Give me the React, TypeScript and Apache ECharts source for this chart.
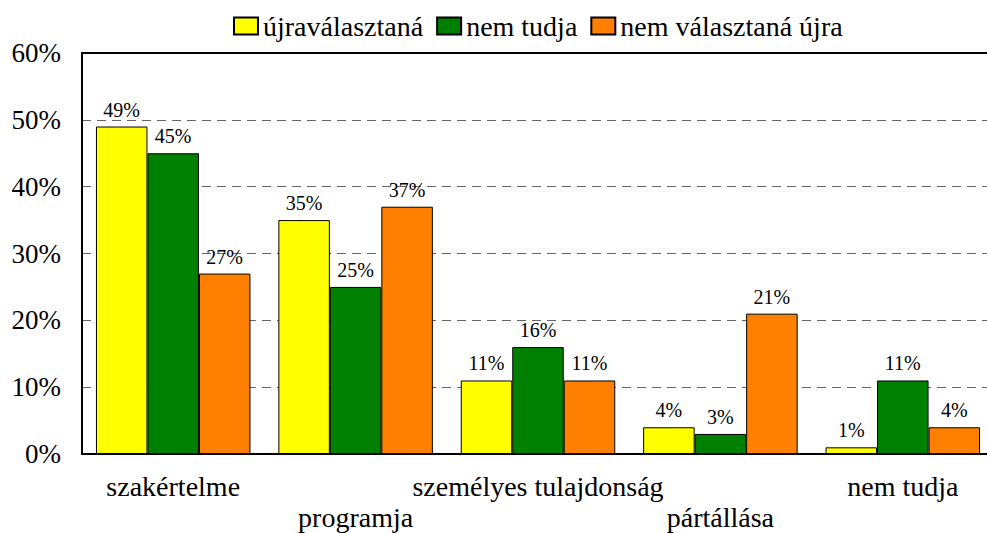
import React, { useEffect, useRef } from "react";
import * as echarts from "echarts";

const categories = ["szakértelme", "programja", "személyes tulajdonság", "pártállása", "nem tudja"];
const seriesNames = ["újraválasztaná", "nem tudja", "nem választaná újra"];
const reelect = [49, 35, 11, 4, 1];
const dontKnow = [45, 25, 16, 3, 11];
const notReelect = [27, 37, 11, 21, 4];
const colors = ["#FFFF00", "#008000", "#FF8000"];

const FONT = "Liberation Serif, Times New Roman, DejaVu Serif, serif";

export default function App() {
  const ref = useRef<HTMLDivElement>(null);
  useEffect(() => {
    if (!ref.current) return;
    const chart = echarts.init(ref.current, null, { renderer: "svg" });
    const values = [reelect, dontKnow, notReelect];
    chart.setOption({
      animation: false,
      textStyle: { fontFamily: FONT },
      legend: {
        left: 233,
        top: 12,
        padding: 0,
        itemWidth: 24,
        itemHeight: 17,
        itemGap: 13,
        icon: "rect",
        textStyle: { fontFamily: FONT, fontSize: 28, color: "#000" },
        data: seriesNames,
      },
      grid: { left: 82, right: -7, top: 53, bottom: 79, outerBoundsMode: "none", containLabel: false },
      xAxis: [
        {
          type: "category",
          data: categories,
          axisLine: { lineStyle: { color: "#000", width: 2 } },
          axisTick: { show: false },
          axisLabel: {
            interval: 0,
            fontFamily: FONT,
            fontSize: 28,
            color: "#000",
            margin: 19,
            formatter: (v: string, i: number) => (i % 2 === 1 ? "{gap|}\n{t|" + v + "}" : "{t|" + v + "}"),
            rich: {
              t: { fontFamily: FONT, fontSize: 28, color: "#000", lineHeight: 26 },
              gap: { fontSize: 10, lineHeight: 31 },
            },
          },
        },
        {
          type: "category",
          data: categories,
          position: "top",
          axisLine: { show: true, lineStyle: { color: "#000", width: 2 } },
          axisTick: { show: false },
          axisLabel: { show: false },
        },
      ],
      yAxis: {
        type: "value",
        min: 0,
        max: 60,
        interval: 10,
        axisLine: { show: true, lineStyle: { color: "#000", width: 2 } },
        axisTick: { show: false },
        axisLabel: {
          formatter: "{value}%",
          fontFamily: FONT,
          fontSize: 27,
          color: "#000",
          margin: 21,
        },
        splitLine: { show: true, lineStyle: { color: "#666", type: [9, 6], width: 1 } },
      },
      series: seriesNames.map((name, i) => ({
        name,
        type: "bar",
        data: values[i],
        barGap: "0%",
        barCategoryGap: "15.3%",
        itemStyle: { color: colors[i], borderColor: "#000", borderWidth: 1 },
        label: {
          show: true,
          position: "top",
          distance: 7,
          formatter: "{c}%",
          fontFamily: FONT,
          fontSize: 20,
          color: "#000",
        },
      })),
    });
    return () => chart.dispose();
  }, []);
  return (
    <div
      ref={ref}
      style={{ position: "fixed", left: 0, top: 0, width: 987, height: 533, background: "#fff" }}
    />
  );
}
